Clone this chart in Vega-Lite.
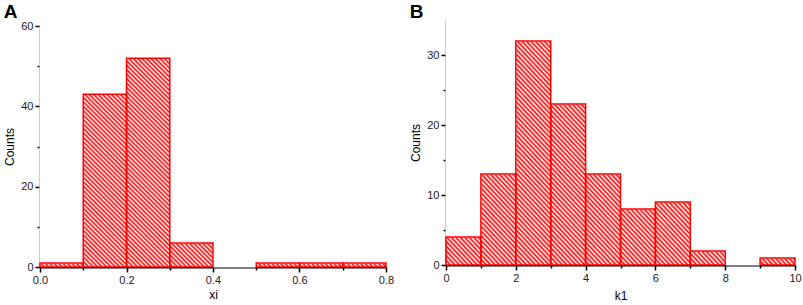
{
  "$schema": "https://vega.github.io/schema/vega-lite/v6.json",
  "padding": {"left": 3, "top": 2, "right": 0, "bottom": 0},
  "background": "white",
  "datasets": {
    "xi": [
      {"x0": 0.0, "x1": 0.1, "count": 1},
      {"x0": 0.1, "x1": 0.2, "count": 43},
      {"x0": 0.2, "x1": 0.3, "count": 52},
      {"x0": 0.3, "x1": 0.4, "count": 6},
      {"x0": 0.4, "x1": 0.5, "count": 0},
      {"x0": 0.5, "x1": 0.6, "count": 1},
      {"x0": 0.6, "x1": 0.7, "count": 1},
      {"x0": 0.7, "x1": 0.8, "count": 1}
    ],
    "k1": [
      {"x0": 0, "x1": 1, "count": 4},
      {"x0": 1, "x1": 2, "count": 13},
      {"x0": 2, "x1": 3, "count": 32},
      {"x0": 3, "x1": 4, "count": 23},
      {"x0": 4, "x1": 5, "count": 13},
      {"x0": 5, "x1": 6, "count": 8},
      {"x0": 6, "x1": 7, "count": 9},
      {"x0": 7, "x1": 8, "count": 2},
      {"x0": 8, "x1": 9, "count": 0},
      {"x0": 9, "x1": 10, "count": 1}
    ]
  },
  "spacing": 15,
  "hconcat": [
    {
      "title": {"text": "A", "anchor": "start", "frame": "bounds", "offset": -2},
      "width": 346,
      "height": 247,
      "data": {"name": "xi"},
      "layer": [
        {
          "mark": {"type": "rect"},
          "encoding": {
            "x": {"aggregate": "min", "field": "x0", "type": "quantitative", "scale": {"domain": [0, 0.8], "nice": false}, "axis": {"title": "xi", "titlePadding": 4, "values": [0, 0.1, 0.2, 0.3, 0.4, 0.5, 0.6, 0.7, 0.8], "format": ".1f", "labelExpr": "round(datum.value*10) % 2 == 0 ? datum.label : ''", "tickSize": {"condition": {"test": "round(datum.value*10) % 2 == 0", "value": 5}, "value": 3}}},
            "x2": {"aggregate": "max", "field": "x1"},
            "y": {"aggregate": "max", "field": "count", "type": "quantitative", "scale": {"domain": [0, 60], "nice": false, "range": [247, 6]}, "axis": {"title": "Counts", "values": [0, 10, 20, 30, 40, 50, 60], "labelExpr": "datum.value % 20 == 0 ? datum.label : ''", "tickSize": {"condition": {"test": "datum.value % 20 == 0", "value": 5}, "value": 3}}},
            "y2": {"datum": 0}
          }
        },
        {
          "mark": {"type": "rect", "fill": "white", "stroke": "white", "strokeWidth": 1},
          "encoding": {
            "x": {"field": "x0", "type": "quantitative", "axis": {"title": "xi", "titlePadding": 4, "values": [0, 0.1, 0.2, 0.3, 0.4, 0.5, 0.6, 0.7, 0.8], "format": ".1f", "labelExpr": "round(datum.value*10) % 2 == 0 ? datum.label : ''", "tickSize": {"condition": {"test": "round(datum.value*10) % 2 == 0", "value": 5}, "value": 3}}},
            "x2": {"field": "x1"},
            "y": {"field": "count", "type": "quantitative", "axis": {"title": "Counts", "values": [0, 10, 20, 30, 40, 50, 60], "labelExpr": "datum.value % 20 == 0 ? datum.label : ''", "tickSize": {"condition": {"test": "datum.value % 20 == 0", "value": 5}, "value": 3}}},
            "y2": {"datum": 60}
          }
        },
        {
          "transform": [{"filter": "datum.count > 0"}],
          "mark": {"type": "rect", "fillOpacity": 0, "stroke": "#ff0000", "strokeWidth": 1.5},
          "encoding": {
            "x": {"field": "x0", "type": "quantitative", "axis": {"title": "xi", "titlePadding": 4, "values": [0, 0.1, 0.2, 0.3, 0.4, 0.5, 0.6, 0.7, 0.8], "format": ".1f", "labelExpr": "round(datum.value*10) % 2 == 0 ? datum.label : ''", "tickSize": {"condition": {"test": "round(datum.value*10) % 2 == 0", "value": 5}, "value": 3}}},
            "x2": {"field": "x1"},
            "y": {"field": "count", "type": "quantitative", "axis": {"title": "Counts", "values": [0, 10, 20, 30, 40, 50, 60], "labelExpr": "datum.value % 20 == 0 ? datum.label : ''", "tickSize": {"condition": {"test": "datum.value % 20 == 0", "value": 5}, "value": 3}}},
            "y2": {"datum": 0}
          }
        }
      ]
    },
    {
      "title": {"text": "B", "anchor": "start", "frame": "bounds", "offset": -2},
      "width": 349,
      "height": 245,
      "data": {"name": "k1"},
      "layer": [
        {
          "mark": {"type": "rect"},
          "encoding": {
            "x": {"aggregate": "min", "field": "x0", "type": "quantitative", "scale": {"domain": [0, 10], "nice": false}, "axis": {"title": "k1", "titlePadding": 7, "values": [0, 1, 2, 3, 4, 5, 6, 7, 8, 9, 10], "labelExpr": "datum.value % 2 == 0 ? datum.label : ''", "tickSize": {"condition": {"test": "datum.value % 2 == 0", "value": 5}, "value": 3}}},
            "x2": {"aggregate": "max", "field": "x1"},
            "y": {"aggregate": "max", "field": "count", "type": "quantitative", "scale": {"domain": [0, 35], "nice": false}, "axis": {"title": "Counts", "values": [0, 5, 10, 15, 20, 25, 30], "labelExpr": "datum.value % 10 == 0 ? datum.label : ''", "tickSize": {"condition": {"test": "datum.value % 10 == 0", "value": 5}, "value": 3}}},
            "y2": {"datum": 0}
          }
        },
        {
          "mark": {"type": "rect", "fill": "white", "stroke": "white", "strokeWidth": 1},
          "encoding": {
            "x": {"field": "x0", "type": "quantitative", "axis": {"title": "k1", "titlePadding": 7, "values": [0, 1, 2, 3, 4, 5, 6, 7, 8, 9, 10], "labelExpr": "datum.value % 2 == 0 ? datum.label : ''", "tickSize": {"condition": {"test": "datum.value % 2 == 0", "value": 5}, "value": 3}}},
            "x2": {"field": "x1"},
            "y": {"field": "count", "type": "quantitative", "axis": {"title": "Counts", "values": [0, 5, 10, 15, 20, 25, 30], "labelExpr": "datum.value % 10 == 0 ? datum.label : ''", "tickSize": {"condition": {"test": "datum.value % 10 == 0", "value": 5}, "value": 3}}},
            "y2": {"datum": 35}
          }
        },
        {
          "transform": [{"filter": "datum.count > 0"}],
          "mark": {"type": "rect", "fillOpacity": 0, "stroke": "#ff0000", "strokeWidth": 1.5},
          "encoding": {
            "x": {"field": "x0", "type": "quantitative", "axis": {"title": "k1", "titlePadding": 7, "values": [0, 1, 2, 3, 4, 5, 6, 7, 8, 9, 10], "labelExpr": "datum.value % 2 == 0 ? datum.label : ''", "tickSize": {"condition": {"test": "datum.value % 2 == 0", "value": 5}, "value": 3}}},
            "x2": {"field": "x1"},
            "y": {"field": "count", "type": "quantitative", "axis": {"title": "Counts", "values": [0, 5, 10, 15, 20, 25, 30], "labelExpr": "datum.value % 10 == 0 ? datum.label : ''", "tickSize": {"condition": {"test": "datum.value % 10 == 0", "value": 5}, "value": 3}}},
            "y2": {"datum": 0}
          }
        }
      ]
    }
  ],
  "config": {
    "view": {"stroke": null},
    "title": {"font": "Liberation Sans", "fontSize": 19, "fontWeight": "bold", "color": "black"},
    "axis": {"domainColor": "black", "domainWidth": 1.8, "tickColor": "black", "tickWidth": 1.5, "labelFont": "Liberation Sans", "labelFontSize": 11, "labelColor": "#222222", "labelPadding": 2, "titleFont": "Liberation Sans", "titleFontSize": 12, "titleFontWeight": "normal", "titleColor": "black", "titlePadding": 4, "grid": false, "labelFlush": false, "labelOverlap": false, "zindex": 1},
    "rect": {
      "fill": {
        "gradient": "linear", "x1": 0, "y1": 1, "x2": 1.175, "y2": 0.29,
        "stops": [
{"offset":0,"color":"#f00"},{"offset":0.004,"color":"#fff"},{"offset":0.008,"color":"#f00"},{"offset":0.012,"color":"#fff"},{"offset":0.016,"color":"#f00"},{"offset":0.02,"color":"#fff"},{"offset":0.024,"color":"#f00"},{"offset":0.028,"color":"#fff"},{"offset":0.032,"color":"#f00"},{"offset":0.036,"color":"#fff"},{"offset":0.04,"color":"#f00"},{"offset":0.044,"color":"#fff"},{"offset":0.048,"color":"#f00"},{"offset":0.052,"color":"#fff"},{"offset":0.056,"color":"#f00"},{"offset":0.06,"color":"#fff"},{"offset":0.064,"color":"#f00"},{"offset":0.068,"color":"#fff"},{"offset":0.072,"color":"#f00"},{"offset":0.076,"color":"#fff"},{"offset":0.08,"color":"#f00"},{"offset":0.084,"color":"#fff"},{"offset":0.088,"color":"#f00"},{"offset":0.092,"color":"#fff"},{"offset":0.096,"color":"#f00"},
{"offset":0.1,"color":"#fff"},{"offset":0.104,"color":"#f00"},{"offset":0.108,"color":"#fff"},{"offset":0.112,"color":"#f00"},{"offset":0.116,"color":"#fff"},{"offset":0.12,"color":"#f00"},{"offset":0.124,"color":"#fff"},{"offset":0.128,"color":"#f00"},{"offset":0.132,"color":"#fff"},{"offset":0.136,"color":"#f00"},{"offset":0.14,"color":"#fff"},{"offset":0.144,"color":"#f00"},{"offset":0.148,"color":"#fff"},{"offset":0.152,"color":"#f00"},{"offset":0.156,"color":"#fff"},{"offset":0.16,"color":"#f00"},{"offset":0.164,"color":"#fff"},{"offset":0.168,"color":"#f00"},{"offset":0.172,"color":"#fff"},{"offset":0.176,"color":"#f00"},{"offset":0.18,"color":"#fff"},{"offset":0.184,"color":"#f00"},{"offset":0.188,"color":"#fff"},{"offset":0.192,"color":"#f00"},{"offset":0.196,"color":"#fff"},
{"offset":0.2,"color":"#f00"},{"offset":0.204,"color":"#fff"},{"offset":0.208,"color":"#f00"},{"offset":0.212,"color":"#fff"},{"offset":0.216,"color":"#f00"},{"offset":0.22,"color":"#fff"},{"offset":0.224,"color":"#f00"},{"offset":0.228,"color":"#fff"},{"offset":0.232,"color":"#f00"},{"offset":0.236,"color":"#fff"},{"offset":0.24,"color":"#f00"},{"offset":0.244,"color":"#fff"},{"offset":0.248,"color":"#f00"},{"offset":0.252,"color":"#fff"},{"offset":0.256,"color":"#f00"},{"offset":0.26,"color":"#fff"},{"offset":0.264,"color":"#f00"},{"offset":0.268,"color":"#fff"},{"offset":0.272,"color":"#f00"},{"offset":0.276,"color":"#fff"},{"offset":0.28,"color":"#f00"},{"offset":0.284,"color":"#fff"},{"offset":0.288,"color":"#f00"},{"offset":0.292,"color":"#fff"},{"offset":0.296,"color":"#f00"},
{"offset":0.3,"color":"#fff"},{"offset":0.304,"color":"#f00"},{"offset":0.308,"color":"#fff"},{"offset":0.312,"color":"#f00"},{"offset":0.316,"color":"#fff"},{"offset":0.32,"color":"#f00"},{"offset":0.324,"color":"#fff"},{"offset":0.328,"color":"#f00"},{"offset":0.332,"color":"#fff"},{"offset":0.336,"color":"#f00"},{"offset":0.34,"color":"#fff"},{"offset":0.344,"color":"#f00"},{"offset":0.348,"color":"#fff"},{"offset":0.352,"color":"#f00"},{"offset":0.356,"color":"#fff"},{"offset":0.36,"color":"#f00"},{"offset":0.364,"color":"#fff"},{"offset":0.368,"color":"#f00"},{"offset":0.372,"color":"#fff"},{"offset":0.376,"color":"#f00"},{"offset":0.38,"color":"#fff"},{"offset":0.384,"color":"#f00"},{"offset":0.388,"color":"#fff"},{"offset":0.392,"color":"#f00"},{"offset":0.396,"color":"#fff"},
{"offset":0.4,"color":"#f00"},{"offset":0.404,"color":"#fff"},{"offset":0.408,"color":"#f00"},{"offset":0.412,"color":"#fff"},{"offset":0.416,"color":"#f00"},{"offset":0.42,"color":"#fff"},{"offset":0.424,"color":"#f00"},{"offset":0.428,"color":"#fff"},{"offset":0.432,"color":"#f00"},{"offset":0.436,"color":"#fff"},{"offset":0.44,"color":"#f00"},{"offset":0.444,"color":"#fff"},{"offset":0.448,"color":"#f00"},{"offset":0.452,"color":"#fff"},{"offset":0.456,"color":"#f00"},{"offset":0.46,"color":"#fff"},{"offset":0.464,"color":"#f00"},{"offset":0.468,"color":"#fff"},{"offset":0.472,"color":"#f00"},{"offset":0.476,"color":"#fff"},{"offset":0.48,"color":"#f00"},{"offset":0.484,"color":"#fff"},{"offset":0.488,"color":"#f00"},{"offset":0.492,"color":"#fff"},{"offset":0.496,"color":"#f00"},
{"offset":0.5,"color":"#fff"},{"offset":0.504,"color":"#f00"},{"offset":0.508,"color":"#fff"},{"offset":0.512,"color":"#f00"},{"offset":0.516,"color":"#fff"},{"offset":0.52,"color":"#f00"},{"offset":0.524,"color":"#fff"},{"offset":0.528,"color":"#f00"},{"offset":0.532,"color":"#fff"},{"offset":0.536,"color":"#f00"},{"offset":0.54,"color":"#fff"},{"offset":0.544,"color":"#f00"},{"offset":0.548,"color":"#fff"},{"offset":0.552,"color":"#f00"},{"offset":0.556,"color":"#fff"},{"offset":0.56,"color":"#f00"},{"offset":0.564,"color":"#fff"},{"offset":0.568,"color":"#f00"},{"offset":0.572,"color":"#fff"},{"offset":0.576,"color":"#f00"},{"offset":0.58,"color":"#fff"},{"offset":0.584,"color":"#f00"},{"offset":0.588,"color":"#fff"},{"offset":0.592,"color":"#f00"},{"offset":0.596,"color":"#fff"},
{"offset":0.6,"color":"#f00"},{"offset":0.604,"color":"#fff"},{"offset":0.608,"color":"#f00"},{"offset":0.612,"color":"#fff"},{"offset":0.616,"color":"#f00"},{"offset":0.62,"color":"#fff"},{"offset":0.624,"color":"#f00"},{"offset":0.628,"color":"#fff"},{"offset":0.632,"color":"#f00"},{"offset":0.636,"color":"#fff"},{"offset":0.64,"color":"#f00"},{"offset":0.644,"color":"#fff"},{"offset":0.648,"color":"#f00"},{"offset":0.652,"color":"#fff"},{"offset":0.656,"color":"#f00"},{"offset":0.66,"color":"#fff"},{"offset":0.664,"color":"#f00"},{"offset":0.668,"color":"#fff"},{"offset":0.672,"color":"#f00"},{"offset":0.676,"color":"#fff"},{"offset":0.68,"color":"#f00"},{"offset":0.684,"color":"#fff"},{"offset":0.688,"color":"#f00"},{"offset":0.692,"color":"#fff"},{"offset":0.696,"color":"#f00"},
{"offset":0.7,"color":"#fff"},{"offset":0.704,"color":"#f00"},{"offset":0.708,"color":"#fff"},{"offset":0.712,"color":"#f00"},{"offset":0.716,"color":"#fff"},{"offset":0.72,"color":"#f00"},{"offset":0.724,"color":"#fff"},{"offset":0.728,"color":"#f00"},{"offset":0.732,"color":"#fff"},{"offset":0.736,"color":"#f00"},{"offset":0.74,"color":"#fff"},{"offset":0.744,"color":"#f00"},{"offset":0.748,"color":"#fff"},{"offset":0.752,"color":"#f00"},{"offset":0.756,"color":"#fff"},{"offset":0.76,"color":"#f00"},{"offset":0.764,"color":"#fff"},{"offset":0.768,"color":"#f00"},{"offset":0.772,"color":"#fff"},{"offset":0.776,"color":"#f00"},{"offset":0.78,"color":"#fff"},{"offset":0.784,"color":"#f00"},{"offset":0.788,"color":"#fff"},{"offset":0.792,"color":"#f00"},{"offset":0.796,"color":"#fff"},
{"offset":0.8,"color":"#f00"},{"offset":0.804,"color":"#fff"},{"offset":0.808,"color":"#f00"},{"offset":0.812,"color":"#fff"},{"offset":0.816,"color":"#f00"},{"offset":0.82,"color":"#fff"},{"offset":0.824,"color":"#f00"},{"offset":0.828,"color":"#fff"},{"offset":0.832,"color":"#f00"},{"offset":0.836,"color":"#fff"},{"offset":0.84,"color":"#f00"},{"offset":0.844,"color":"#fff"},{"offset":0.848,"color":"#f00"},{"offset":0.852,"color":"#fff"},{"offset":0.856,"color":"#f00"},{"offset":0.86,"color":"#fff"},{"offset":0.864,"color":"#f00"},{"offset":0.868,"color":"#fff"},{"offset":0.872,"color":"#f00"},{"offset":0.876,"color":"#fff"},{"offset":0.88,"color":"#f00"},{"offset":0.884,"color":"#fff"},{"offset":0.888,"color":"#f00"},{"offset":0.892,"color":"#fff"},{"offset":0.896,"color":"#f00"},
{"offset":0.9,"color":"#fff"},{"offset":0.904,"color":"#f00"},{"offset":0.908,"color":"#fff"},{"offset":0.912,"color":"#f00"},{"offset":0.916,"color":"#fff"},{"offset":0.92,"color":"#f00"},{"offset":0.924,"color":"#fff"},{"offset":0.928,"color":"#f00"},{"offset":0.932,"color":"#fff"},{"offset":0.936,"color":"#f00"},{"offset":0.94,"color":"#fff"},{"offset":0.944,"color":"#f00"},{"offset":0.948,"color":"#fff"},{"offset":0.952,"color":"#f00"},{"offset":0.956,"color":"#fff"},{"offset":0.96,"color":"#f00"},{"offset":0.964,"color":"#fff"},{"offset":0.968,"color":"#f00"},{"offset":0.972,"color":"#fff"},{"offset":0.976,"color":"#f00"},{"offset":0.98,"color":"#fff"},{"offset":0.984,"color":"#f00"},{"offset":0.988,"color":"#fff"},{"offset":0.992,"color":"#f00"},{"offset":0.996,"color":"#fff"},
{"offset":1,"color":"#f00"}
        ]
      }
    }
  }
}
